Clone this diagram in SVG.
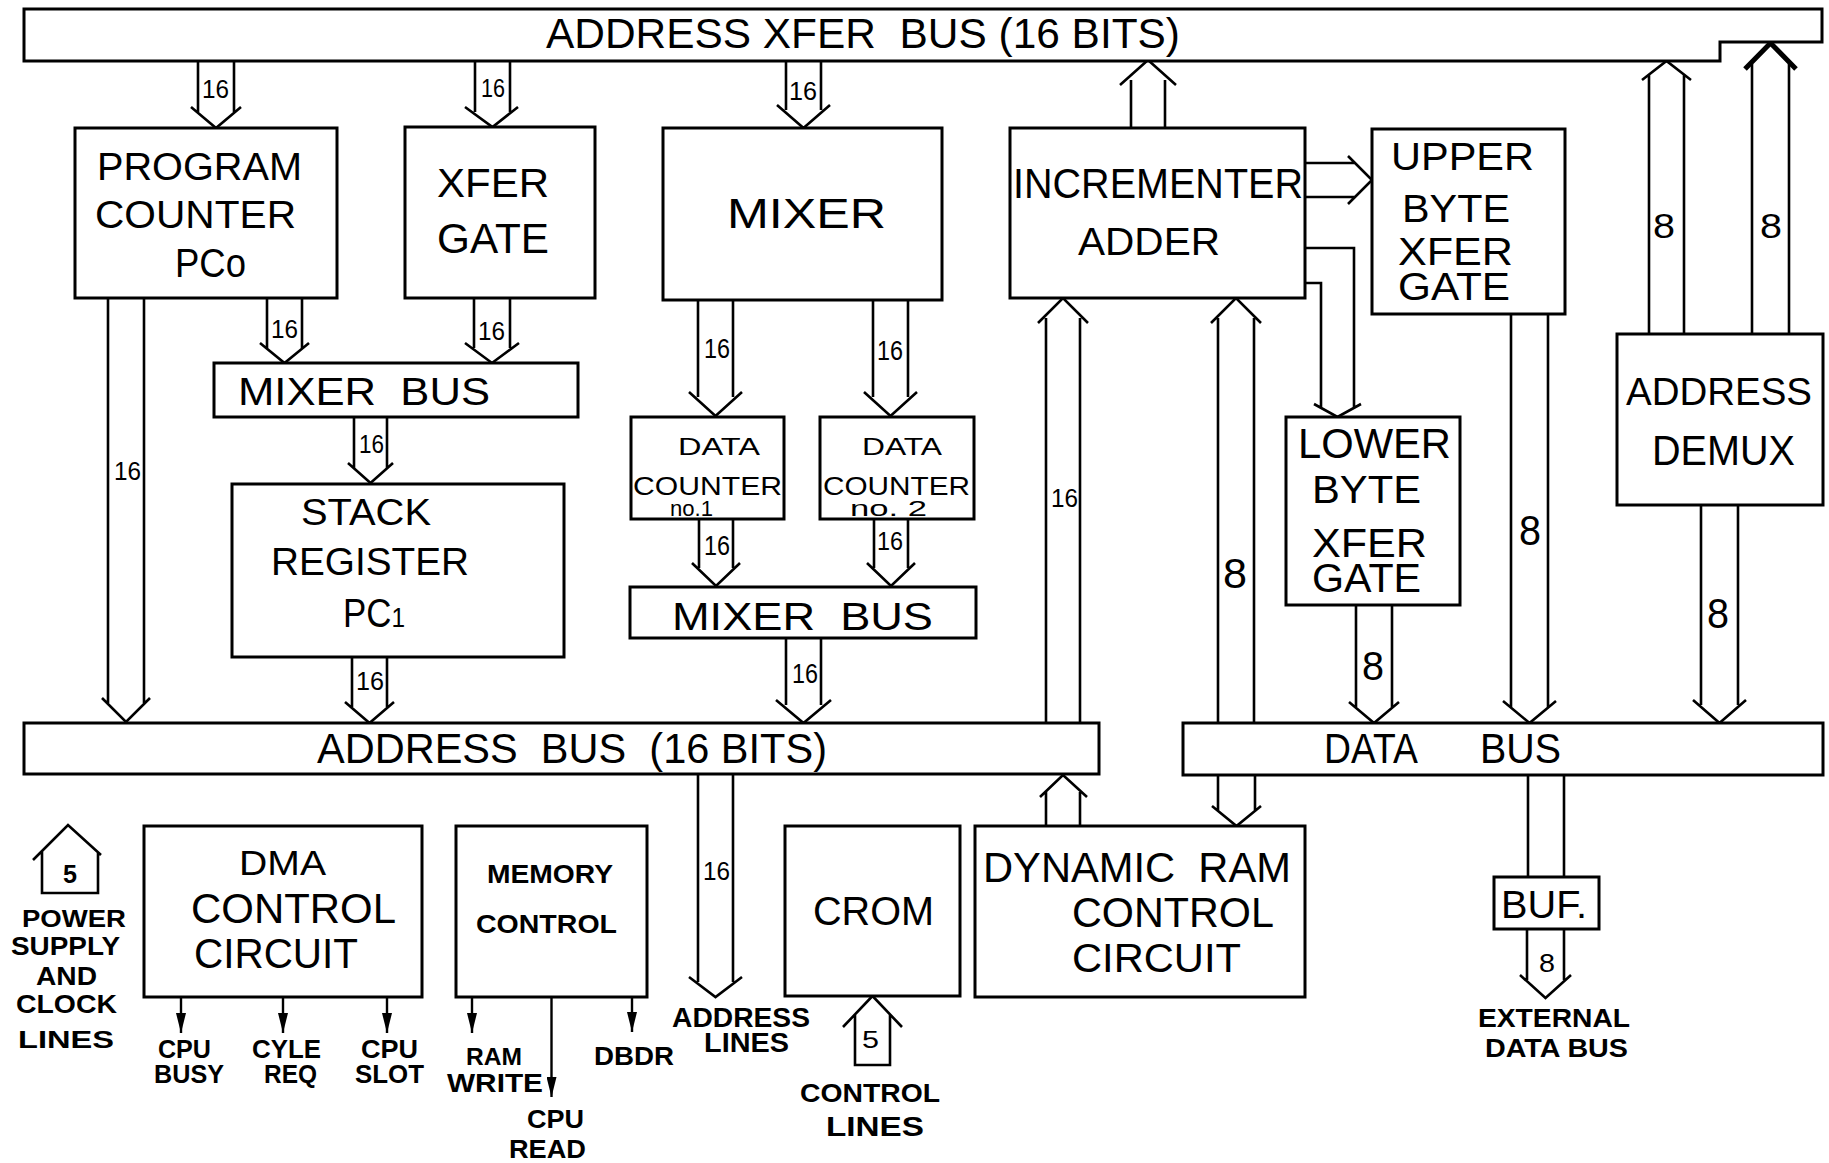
<svg xmlns="http://www.w3.org/2000/svg" width="1829" height="1163" viewBox="0 0 1829 1163">
<style>
.box{fill:#fff;stroke:#000;stroke-width:3}
.ln{fill:none;stroke:#000;stroke-width:2.6}
.hv{fill:none;stroke:#000;stroke-width:5}
.sl{fill:none;stroke:#000;stroke-width:2.4}
text{font-family:"Liberation Sans",Arial,sans-serif;fill:#000;white-space:pre}
.b{font-weight:bold}
</style>
<defs>
<marker id="ah" markerUnits="userSpaceOnUse" markerWidth="20" markerHeight="10" refX="20" refY="5" orient="auto">
<path d="M0,0 L20,5 L0,10 z" fill="#000"/>
</marker>
</defs>
<rect x="0" y="0" width="1829" height="1163" fill="#fff"/>

<g id="connectors">
<path class="ln" d="M198 60V112M234 60V112M191 107L216 128L241 107"/>
<path class="ln" d="M475 60V112M510 60V112M465 107L492.5 127L518 107"/>
<path class="ln" d="M786 60V110M821 60V110M777 105L803.5 128L830 105"/>
<path class="ln" d="M108 298V703M144 298V703M102 698L126 722L150 698"/>
<path class="ln" d="M267 298V348M302 298V348M260 343L284.5 363L309 343"/>
<path class="ln" d="M474 298V348M510 298V348M465 343L492 363L519 343"/>
<path class="ln" d="M354 417V468M387 417V468M348 463L370.5 483L393 463"/>
<path class="ln" d="M352 657V707M387 657V707M345 702L369.5 723L394 702"/>
<path class="ln" d="M698 300V397M733 300V397M689 392L715.5 416L742 392"/>
<path class="ln" d="M873 300V397M908 300V397M864 392L890.5 416L917 392"/>
<path class="ln" d="M699 519V568M733 519V568M692 563L716 586L740 563"/>
<path class="ln" d="M874 519V568M908 519V568M867 563L891 586L915 563"/>
<path class="ln" d="M786 639V705M821 639V705M776 700L803.5 723L831 700"/>
<path class="ln" d="M698 775V982M733 775V982M689 977L715.5 997L742 977"/>
<path class="ln" d="M1511 314V707M1548 314V707M1503 701L1529.5 723L1556 701"/>
<path class="ln" d="M1356 605V707M1392 605V707M1349 702L1374 723L1399 702"/>
<path class="ln" d="M1701 505V705M1738 505V705M1693 700L1719.5 723L1746 700"/>
<path class="ln" d="M1218 775V811M1255 775V811M1212 806L1236.5 826L1261 806"/>
<path class="ln" d="M1528 775V877M1564 775V877"/>
<path class="ln" d="M1527 929V980M1564 929V980M1520 975L1545.5 998L1571 975"/>
<path class="ln" d="M1131 128V80M1165 128V80M1120 85L1148 60L1176 85"/>
<path class="ln" d="M1046 722V318M1080 722V318M1038 323L1063 298L1088 323"/>
<path class="ln" d="M1218 723V318M1254 723V318M1211 323L1236 298L1261 323"/>
<path class="ln" d="M1046 826V792M1080 826V792M1040 797L1063 775L1087 797"/>
<path class="ln" d="M1649 335V75M1684 335V75M1642 80L1666.5 61L1691 80"/>
<path class="ln" d="M1752 335V64M1789 335V64"/>
<path class="hv" d="M1745 69L1770.5 43L1796 69"/>
<path class="ln" d="M855 1015V1065H890V1015M843 1027L872.5 996L902 1027"/>
<path class="ln" d="M42 851V893H98V852M33 860L68 825L101 855"/>
<path class="ln" d="M1305 163H1355M1305 197H1355M1348 156L1372 180L1348 204"/>
<path class="ln" d="M1305 248H1354V408M1305 283H1321V408M1314 404L1337.5 417L1361 404"/>
<path class="sl" d="M181 997V1033" marker-end="url(#ah)"/>
<path class="sl" d="M283 997V1033" marker-end="url(#ah)"/>
<path class="sl" d="M387 997V1033" marker-end="url(#ah)"/>
<path class="sl" d="M472 997V1033" marker-end="url(#ah)"/>
<path class="sl" d="M551.5 997V1097" marker-end="url(#ah)"/>
<path class="sl" d="M632 997V1032" marker-end="url(#ah)"/>
<text x="202" y="98" font-size="26" textLength="27" lengthAdjust="spacingAndGlyphs">16</text>
<text x="481" y="97" font-size="26" textLength="24" lengthAdjust="spacingAndGlyphs">16</text>
<text x="789" y="100" font-size="26" textLength="28" lengthAdjust="spacingAndGlyphs">16</text>
<text x="114" y="480" font-size="26" textLength="27" lengthAdjust="spacingAndGlyphs">16</text>
<text x="271" y="338" font-size="26" textLength="27" lengthAdjust="spacingAndGlyphs">16</text>
<text x="478" y="340" font-size="26" textLength="27" lengthAdjust="spacingAndGlyphs">16</text>
<text x="359" y="453" font-size="26" textLength="25" lengthAdjust="spacingAndGlyphs">16</text>
<text x="356" y="690" font-size="26" textLength="28" lengthAdjust="spacingAndGlyphs">16</text>
<text x="704" y="358" font-size="27" textLength="26" lengthAdjust="spacingAndGlyphs">16</text>
<text x="877" y="360" font-size="27" textLength="26" lengthAdjust="spacingAndGlyphs">16</text>
<text x="704" y="555" font-size="28" textLength="26" lengthAdjust="spacingAndGlyphs">16</text>
<text x="877" y="550" font-size="26" textLength="26" lengthAdjust="spacingAndGlyphs">16</text>
<text x="792" y="683" font-size="27" textLength="26" lengthAdjust="spacingAndGlyphs">16</text>
<text x="703" y="880" font-size="26" textLength="27" lengthAdjust="spacingAndGlyphs">16</text>
<text x="1051" y="507" font-size="26" textLength="27" lengthAdjust="spacingAndGlyphs">16</text>
<text x="1519" y="545" font-size="42" textLength="22" lengthAdjust="spacingAndGlyphs">8</text>
<text x="1362" y="680" font-size="40" textLength="22" lengthAdjust="spacingAndGlyphs">8</text>
<text x="1707" y="628" font-size="42" textLength="22" lengthAdjust="spacingAndGlyphs">8</text>
<text x="1223" y="588" font-size="42" textLength="24" lengthAdjust="spacingAndGlyphs">8</text>
<text x="1653" y="238" font-size="35" textLength="22" lengthAdjust="spacingAndGlyphs">8</text>
<text x="1760" y="238" font-size="35" textLength="22" lengthAdjust="spacingAndGlyphs">8</text>
<text x="1539" y="972" font-size="26" textLength="16" lengthAdjust="spacingAndGlyphs">8</text>
<text class="b" x="63" y="883" font-size="25" textLength="14" lengthAdjust="spacingAndGlyphs">5</text>
<text x="862" y="1048" font-size="24" textLength="17" lengthAdjust="spacingAndGlyphs">5</text>
</g>

<g id="address-xfer-bus">
<path class="box" d="M24 9H1822V42H1720V61H24Z"/>
<text x="546" y="48" font-size="42" textLength="634" lengthAdjust="spacingAndGlyphs">ADDRESS XFER  BUS (16 BITS)</text>
</g>
<g id="program-counter">
<rect class="box" x="75" y="128" width="262" height="170"/>
<text x="97" y="180" font-size="39" textLength="205" lengthAdjust="spacingAndGlyphs">PROGRAM</text>
<text x="95" y="228" font-size="39" textLength="201" lengthAdjust="spacingAndGlyphs">COUNTER</text>
<text x="175" y="277" font-size="40" textLength="71" lengthAdjust="spacingAndGlyphs">PCo</text>
</g>
<g id="xfer-gate">
<rect class="box" x="405" y="127" width="190" height="171"/>
<text x="437" y="197" font-size="40" textLength="112" lengthAdjust="spacingAndGlyphs">XFER</text>
<text x="437" y="253" font-size="42" textLength="112" lengthAdjust="spacingAndGlyphs">GATE</text>
</g>
<g id="mixer">
<rect class="box" x="663" y="128" width="279" height="172"/>
<text x="727" y="228" font-size="43" textLength="159" lengthAdjust="spacingAndGlyphs">MIXER</text>
</g>
<g id="mixer-bus-1">
<rect class="box" x="214" y="363" width="364" height="54"/>
<text x="238" y="405" font-size="39" textLength="252" lengthAdjust="spacingAndGlyphs">MIXER  BUS</text>
</g>
<g id="stack-register">
<rect class="box" x="232" y="484" width="332" height="173"/>
<text x="301" y="525" font-size="37" textLength="130" lengthAdjust="spacingAndGlyphs">STACK</text>
<text x="271" y="575" font-size="39" textLength="198" lengthAdjust="spacingAndGlyphs">REGISTER</text>
<text x="343" y="627" font-size="40" textLength="62" lengthAdjust="spacingAndGlyphs">PC<tspan font-size="28">1</tspan></text>
</g>
<g id="data-counter-1">
<rect class="box" x="631" y="417" width="153" height="102"/>
<text x="678" y="455" font-size="23" textLength="82" lengthAdjust="spacingAndGlyphs">DATA</text>
<text x="633" y="495" font-size="25" textLength="149" lengthAdjust="spacingAndGlyphs">COUNTER</text>
<text x="670" y="516" font-size="22" textLength="43" lengthAdjust="spacingAndGlyphs">no.1</text>
</g>
<g id="data-counter-2">
<rect class="box" x="820" y="417" width="154" height="102"/>
<text x="862" y="455" font-size="23" textLength="80" lengthAdjust="spacingAndGlyphs">DATA</text>
<text x="823" y="495" font-size="25" textLength="147" lengthAdjust="spacingAndGlyphs">COUNTER</text>
<text x="850" y="516" font-size="22" textLength="77" lengthAdjust="spacingAndGlyphs">no. 2</text>
</g>
<g id="mixer-bus-2">
<rect class="box" x="630" y="587" width="346" height="51"/>
<text x="672" y="630" font-size="39" textLength="261" lengthAdjust="spacingAndGlyphs">MIXER  BUS</text>
</g>
<g id="address-bus">
<rect class="box" x="24" y="723" width="1075" height="51"/>
<text x="317" y="763" font-size="42" textLength="510" lengthAdjust="spacingAndGlyphs">ADDRESS  BUS  (16 BITS)</text>
</g>
<g id="incrementer-adder">
<rect class="box" x="1010" y="128" width="295" height="170"/>
<text x="1013" y="198" font-size="42" textLength="290" lengthAdjust="spacingAndGlyphs">INCREMENTER</text>
<text x="1078" y="255" font-size="39" textLength="142" lengthAdjust="spacingAndGlyphs">ADDER</text>
</g>
<g id="upper-byte-xfer-gate">
<rect class="box" x="1372" y="129" width="193" height="185"/>
<text x="1391" y="170" font-size="38" textLength="143" lengthAdjust="spacingAndGlyphs">UPPER</text>
<text x="1402" y="222" font-size="38" textLength="108" lengthAdjust="spacingAndGlyphs">BYTE</text>
<text x="1398" y="265" font-size="38" textLength="115" lengthAdjust="spacingAndGlyphs">XFER</text>
<text x="1398" y="300" font-size="38" textLength="112" lengthAdjust="spacingAndGlyphs">GATE</text>
</g>
<g id="address-demux">
<rect class="box" x="1617" y="334" width="206" height="171"/>
<text x="1626" y="405" font-size="38" textLength="186" lengthAdjust="spacingAndGlyphs">ADDRESS</text>
<text x="1652" y="465" font-size="42" textLength="143" lengthAdjust="spacingAndGlyphs">DEMUX</text>
</g>
<g id="lower-byte-xfer-gate">
<rect class="box" x="1286" y="417" width="174" height="188"/>
<text x="1298" y="458" font-size="42" textLength="153" lengthAdjust="spacingAndGlyphs">LOWER</text>
<text x="1312" y="503" font-size="39" textLength="109" lengthAdjust="spacingAndGlyphs">BYTE</text>
<text x="1312" y="557" font-size="40" textLength="115" lengthAdjust="spacingAndGlyphs">XFER</text>
<text x="1312" y="592" font-size="40" textLength="109" lengthAdjust="spacingAndGlyphs">GATE</text>
</g>
<g id="data-bus">
<rect class="box" x="1183" y="723" width="640" height="52"/>
<text x="1324" y="763" font-size="42" textLength="94" lengthAdjust="spacingAndGlyphs">DATA</text>
<text x="1480" y="763" font-size="42" textLength="81" lengthAdjust="spacingAndGlyphs">BUS</text>
</g>
<g id="dynamic-ram-control">
<rect class="box" x="975" y="826" width="330" height="171"/>
<text x="983" y="882" font-size="42" textLength="308" lengthAdjust="spacingAndGlyphs">DYNAMIC  RAM</text>
<text x="1072" y="927" font-size="42" textLength="202" lengthAdjust="spacingAndGlyphs">CONTROL</text>
<text x="1072" y="972" font-size="40" textLength="169" lengthAdjust="spacingAndGlyphs">CIRCUIT</text>
</g>
<g id="crom">
<rect class="box" x="785" y="826" width="175" height="170"/>
<text x="813" y="925" font-size="40" textLength="121" lengthAdjust="spacingAndGlyphs">CROM</text>
</g>
<g id="buf">
<rect class="box" x="1494" y="877" width="105" height="52"/>
<text x="1501" y="918" font-size="39" textLength="86" lengthAdjust="spacingAndGlyphs">BUF.</text>
</g>
<g id="external-data-bus">
<text class="b" x="1478" y="1027" font-size="26" textLength="152" lengthAdjust="spacingAndGlyphs">EXTERNAL</text>
<text class="b" x="1485" y="1057" font-size="25" textLength="143" lengthAdjust="spacingAndGlyphs">DATA BUS</text>
</g>
<g id="dma-control">
<rect class="box" x="144" y="826" width="278" height="171"/>
<text x="239" y="875" font-size="35" textLength="87" lengthAdjust="spacingAndGlyphs">DMA</text>
<text x="191" y="923" font-size="42" textLength="205" lengthAdjust="spacingAndGlyphs">CONTROL</text>
<text x="194" y="968" font-size="42" textLength="164" lengthAdjust="spacingAndGlyphs">CIRCUIT</text>
</g>
<g id="memory-control">
<rect class="box" x="456" y="826" width="191" height="171"/>
<text class="b" x="487" y="883" font-size="25" textLength="126" lengthAdjust="spacingAndGlyphs">MEMORY</text>
<text class="b" x="476" y="933" font-size="25" textLength="141" lengthAdjust="spacingAndGlyphs">CONTROL</text>
</g>
<g id="output-labels">
<text class="b" x="158" y="1058" font-size="25" textLength="53" lengthAdjust="spacingAndGlyphs">CPU</text>
<text class="b" x="154" y="1083" font-size="25" textLength="70" lengthAdjust="spacingAndGlyphs">BUSY</text>
<text class="b" x="252" y="1058" font-size="25" textLength="69" lengthAdjust="spacingAndGlyphs">CYLE</text>
<text class="b" x="264" y="1083" font-size="25" textLength="53" lengthAdjust="spacingAndGlyphs">REQ</text>
<text class="b" x="361" y="1058" font-size="25" textLength="57" lengthAdjust="spacingAndGlyphs">CPU</text>
<text class="b" x="355" y="1083" font-size="25" textLength="69" lengthAdjust="spacingAndGlyphs">SLOT</text>
<text class="b" x="466" y="1065" font-size="24" textLength="56" lengthAdjust="spacingAndGlyphs">RAM</text>
<text class="b" x="447" y="1092" font-size="26" textLength="96" lengthAdjust="spacingAndGlyphs">WRITE</text>
<text class="b" x="527" y="1128" font-size="25" textLength="57" lengthAdjust="spacingAndGlyphs">CPU</text>
<text class="b" x="509" y="1158" font-size="25" textLength="77" lengthAdjust="spacingAndGlyphs">READ</text>
<text class="b" x="594" y="1065" font-size="25" textLength="80" lengthAdjust="spacingAndGlyphs">DBDR</text>
<text class="b" x="672" y="1027" font-size="27" textLength="138" lengthAdjust="spacingAndGlyphs">ADDRESS</text>
<text class="b" x="704" y="1052" font-size="27" textLength="85" lengthAdjust="spacingAndGlyphs">LINES</text>
<text class="b" x="800" y="1102" font-size="26" textLength="140" lengthAdjust="spacingAndGlyphs">CONTROL</text>
<text class="b" x="826" y="1136" font-size="27" textLength="98" lengthAdjust="spacingAndGlyphs">LINES</text>
</g>
<g id="power-supply">
<text class="b" x="22" y="927" font-size="24" textLength="104" lengthAdjust="spacingAndGlyphs">POWER</text>
<text class="b" x="11" y="955" font-size="25" textLength="109" lengthAdjust="spacingAndGlyphs">SUPPLY</text>
<text class="b" x="36" y="985" font-size="25" textLength="61" lengthAdjust="spacingAndGlyphs">AND</text>
<text class="b" x="16" y="1013" font-size="25" textLength="101" lengthAdjust="spacingAndGlyphs">CLOCK</text>
<text class="b" x="18" y="1048" font-size="23" textLength="96" lengthAdjust="spacingAndGlyphs">LINES</text>
</g>
</svg>
